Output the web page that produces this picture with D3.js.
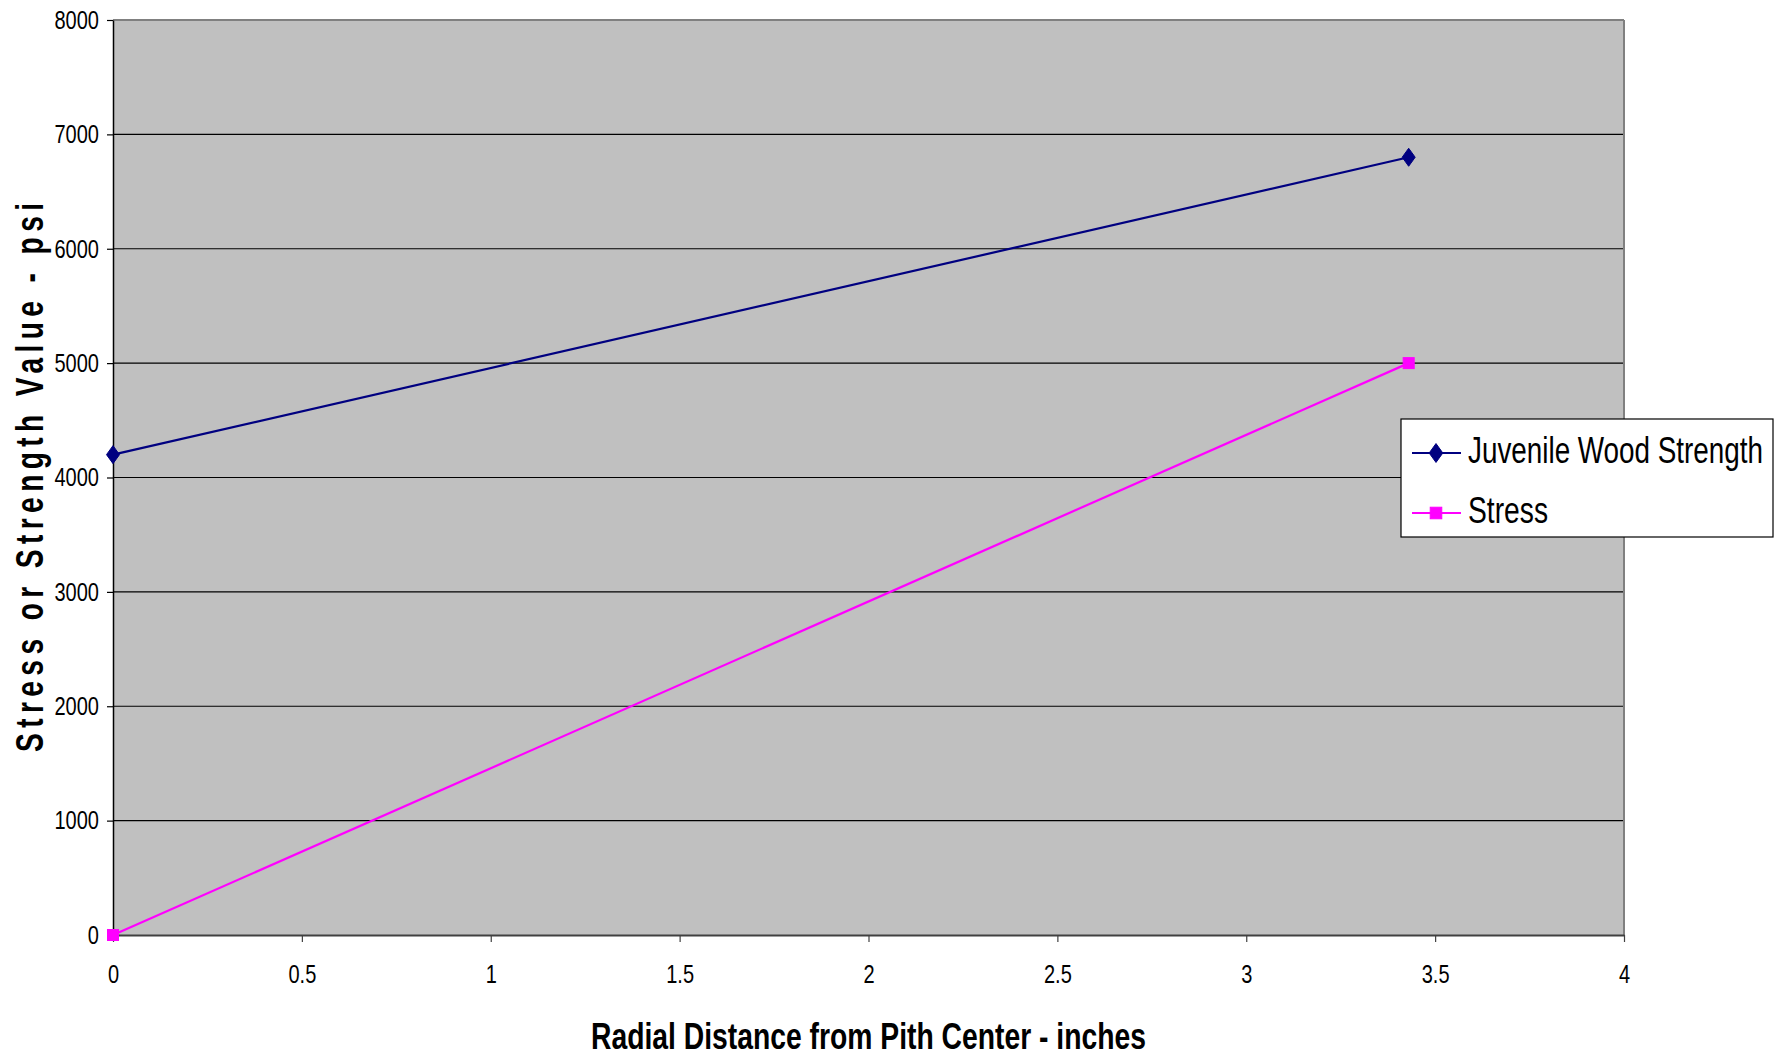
<!DOCTYPE html>
<html>
<head>
<meta charset="utf-8">
<script src="https://cdn.jsdelivr.net/npm/d3@7"></script>
<style>
  html, body { margin: 0; padding: 0; background: #ffffff; }
  svg { display: block; }
  text { font-family: "Liberation Sans", Arial, sans-serif; fill: #000; }
</style>
</head>
<body>
<svg id="chart" width="1775" height="1059"></svg>
<script>
// ---- data ----
const xValues = [0, 3.43];
const juvenileStrength = [4200, 6800];
const stressValues = [0, 5000];
const seriesNames = ["Juvenile Wood Strength", "Stress"];
const seriesColors = ["#000080", "#FF00FF"];
const xTicks = [0, 0.5, 1, 1.5, 2, 2.5, 3, 3.5, 4];
const yTicks = [0, 1000, 2000, 3000, 4000, 5000, 6000, 7000, 8000];
const xTitle = "Radial Distance from Pith Center - inches";
const yTitle = "Stress or Strength Value - psi";

// ---- layout ----
const W = 1775, H = 1059;
const plot = { left: 113, right: 1624, top: 20, bottom: 935 };

const svg = d3.select("#chart");
const x = d3.scaleLinear().domain([0, 4]).range([plot.left, plot.right]);
const y = d3.scaleLinear().domain([0, 8000]).range([plot.bottom, plot.top]);

function condense(sel, factor) {
  sel.each(function () {
    const len = this.getComputedTextLength();
    d3.select(this).attr("textLength", len * factor).attr("lengthAdjust", "spacingAndGlyphs");
  });
}

// plot background
svg.append("rect")
  .attr("x", plot.left).attr("y", plot.top)
  .attr("width", plot.right - plot.left).attr("height", plot.bottom - plot.top)
  .attr("fill", "#C0C0C0");

// gridlines
svg.append("g").selectAll("line")
  .data(yTicks.filter(d => d > 0 && d < 8000))
  .join("line")
  .attr("x1", plot.left).attr("x2", plot.right)
  .attr("y1", d => y(d)).attr("y2", d => y(d))
  .attr("stroke", "#000").attr("stroke-width", 1.2);

// top and right borders
svg.append("line").attr("x1", plot.left).attr("x2", plot.right)
  .attr("y1", plot.top).attr("y2", plot.top).attr("stroke", "#808080").attr("stroke-width", 2);
svg.append("line").attr("x1", plot.right).attr("x2", plot.right)
  .attr("y1", plot.top).attr("y2", plot.bottom).attr("stroke", "#808080").attr("stroke-width", 2);

// y axis
const yAxis = svg.append("g")
  .attr("transform", `translate(${plot.left},0)`)
  .call(d3.axisLeft(y).tickValues(yTicks).tickFormat(d3.format("d")).tickSize(6).tickPadding(8).tickSizeOuter(0));
yAxis.select(".domain").attr("stroke", "#000").attr("stroke-width", 1.5);
yAxis.selectAll(".tick line").attr("stroke", "#000").attr("stroke-width", 1.2);
yAxis.selectAll("text").attr("font-size", 26).attr("font-family", "Liberation Sans, Arial, sans-serif").attr("fill", "#000");
condense(yAxis.selectAll("text"), 0.77);

// x axis
const xAxis = svg.append("g")
  .attr("transform", `translate(0,${plot.bottom})`)
  .call(d3.axisBottom(x).tickValues(xTicks).tickFormat(d => String(d)).tickSize(7).tickPadding(23).tickSizeOuter(0));
xAxis.select(".domain").attr("stroke", "#404040").attr("stroke-width", 2);
xAxis.selectAll(".tick line").attr("stroke", "#404040").attr("stroke-width", 1.2);
xAxis.selectAll("text").attr("font-size", 26).attr("font-family", "Liberation Sans, Arial, sans-serif").attr("fill", "#000");
condense(xAxis.selectAll("text"), 0.77);

// series
const series = [
  { name: seriesNames[0], values: juvenileStrength, color: seriesColors[0], marker: "diamond" },
  { name: seriesNames[1], values: stressValues, color: seriesColors[1], marker: "square" }
];

const line = d3.line().x(d => x(d[0])).y(d => y(d[1]));

function drawMarker(g, type, cx, cy, color, scale) {
  if (type === "diamond") {
    const w = 6.5 * scale, h = 9 * scale;
    g.append("path")
      .attr("d", `M${cx},${cy - h}L${cx + w},${cy}L${cx},${cy + h}L${cx - w},${cy}Z`)
      .attr("fill", color).attr("stroke", color).attr("stroke-width", 1);
  } else {
    const s = 5.5 * scale;
    g.append("rect")
      .attr("x", cx - s).attr("y", cy - s).attr("width", 2 * s).attr("height", 2 * s)
      .attr("fill", color).attr("stroke", color).attr("stroke-width", 1);
  }
}

const sg = svg.append("g");
series.forEach(s => {
  const pts = xValues.map((xv, i) => [xv, s.values[i]]);
  sg.append("path").datum(pts)
    .attr("d", line).attr("fill", "none")
    .attr("stroke", s.color).attr("stroke-width", 2.2);
  pts.forEach(p => drawMarker(sg, s.marker, x(p[0]), y(p[1]), s.color, 1));
});

// axis titles
const xt = svg.append("text")
  .attr("x", (plot.left + plot.right) / 2).attr("y", 1049)
  .attr("text-anchor", "middle")
  .attr("font-size", 36).attr("font-weight", "bold")
  .text(xTitle);
xt.attr("textLength", 555).attr("lengthAdjust", "spacingAndGlyphs");

const yScaleX = 0.74;
const yt = svg.append("text")
  .attr("transform", `translate(43,${(plot.top + plot.bottom) / 2}) rotate(-90) scale(${yScaleX},1)`)
  .attr("text-anchor", "middle")
  .attr("font-size", 38).attr("font-weight", "bold")
  .text(yTitle);
yt.attr("textLength", 549 / yScaleX).attr("lengthAdjust", "spacing");

// legend
const lg = svg.append("g");
lg.append("rect")
  .attr("x", 1401).attr("y", 419).attr("width", 372).attr("height", 118)
  .attr("fill", "#fff").attr("stroke", "#000").attr("stroke-width", 1.2);
const legendRows = [453, 513];
const legendTextLen = [295, 80];
series.forEach((s, i) => {
  const ly = legendRows[i];
  lg.append("line").attr("x1", 1412).attr("x2", 1461).attr("y1", ly).attr("y2", ly)
    .attr("stroke", s.color).attr("stroke-width", 2.2);
  drawMarker(lg, s.marker, 1436, ly, s.color, 1.05);
  lg.append("text")
    .attr("x", 1468).attr("y", ly + 10)
    .attr("font-size", 36)
    .attr("textLength", legendTextLen[i]).attr("lengthAdjust", "spacingAndGlyphs")
    .text(s.name);
});
</script>
</body>
</html>
